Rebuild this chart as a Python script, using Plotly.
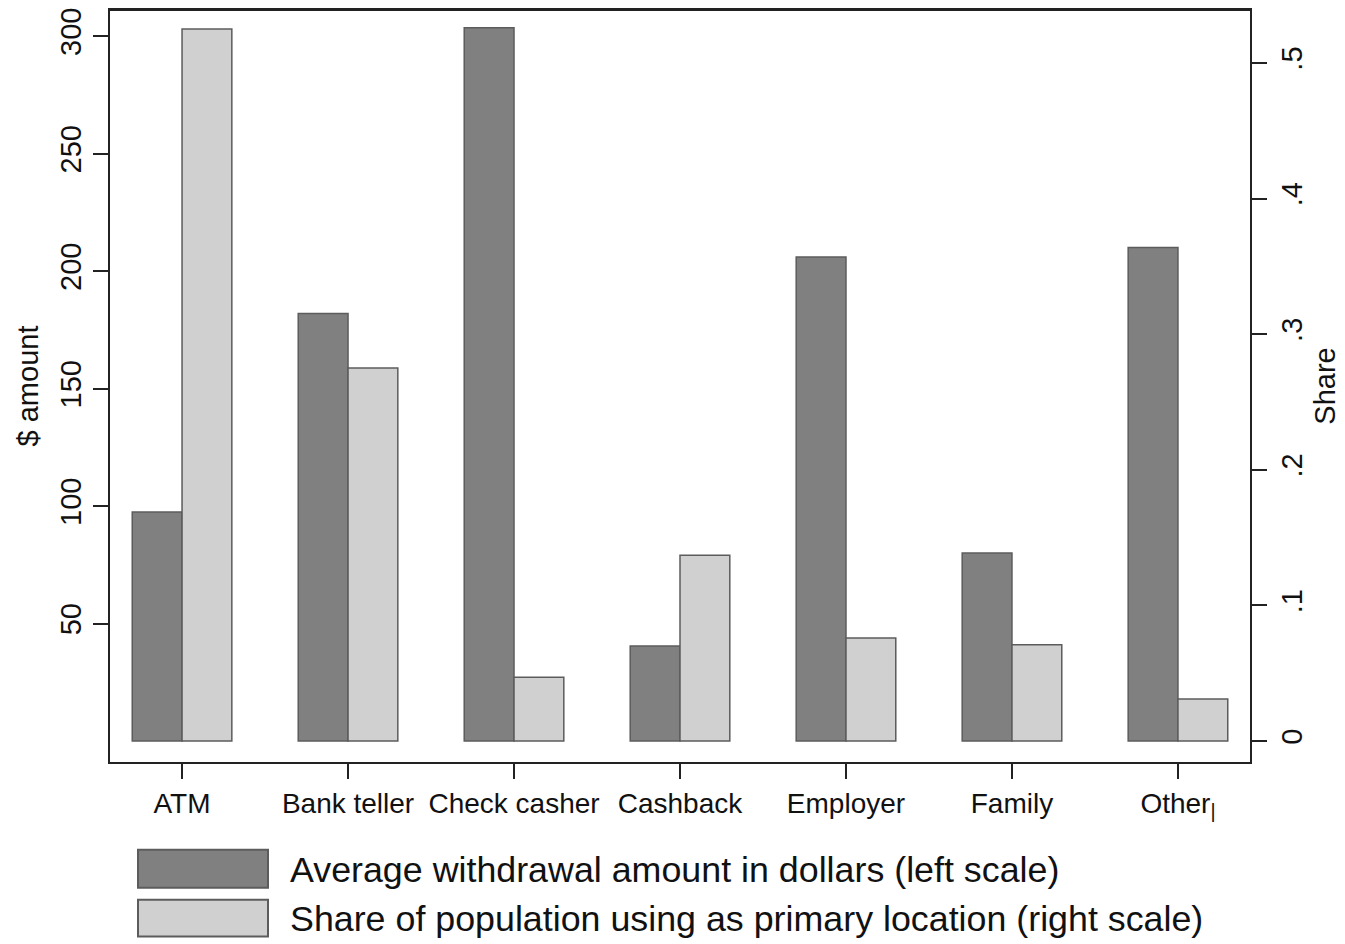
import plotly.graph_objects as go

# Cash withdrawal location data
categories = ["ATM", "Bank teller", "Check casher", "Cashback", "Employer", "Family", "Other"]
tick_text = ["ATM", "Bank teller", "Check casher", "Cashback", "Employer", "Family", "Other<sub>|</sub>"]
avg_amount = [97.5, 182, 303.5, 40.5, 206, 80, 210]            # dollars, left scale
share_primary = [0.525, 0.275, 0.047, 0.137, 0.076, 0.071, 0.031]  # share, right scale

left_ticks = [50, 100, 150, 200, 250, 300]
right_ticks = [0, 0.1, 0.2, 0.3, 0.4, 0.5]
right_tick_text = ["0", ".1", ".2", ".3", ".4", ".5"]

legend_labels = [
    "Average withdrawal amount in dollars (left scale)",
    "Share of population using as primary location (right scale)",
]

DARK = "#808080"
LIGHT = "#d0d0d0"
EDGE = "#5c5c5c"
FONT = "Liberation Sans, Arial, sans-serif"

W, H = 1345, 944
ML, MR, MT, MB = 110, 95, 8, 182
PW, PH = W - ML - MR, H - MT - MB


def px_x(x):
    return (x - ML) / PW


def px_y(y):
    return (H - MB - y) / PH


fig = go.Figure()
fig.add_trace(go.Bar(
    x=categories, y=avg_amount, name=legend_labels[0],
    marker=dict(color=DARK, line=dict(color=EDGE, width=1.5)),
    offsetgroup="a", yaxis="y", showlegend=False,
))
fig.add_trace(go.Bar(
    x=categories, y=share_primary, name=legend_labels[1],
    marker=dict(color=LIGHT, line=dict(color=EDGE, width=1.5)),
    offsetgroup="b", yaxis="y2", showlegend=False,
))

axis_line = dict(showline=True, linecolor="#222", linewidth=2, showgrid=False,
                 zeroline=False, ticks="outside", ticklen=15, tickwidth=2,
                 tickcolor="#222")

fig.update_layout(
    width=W, height=H,
    margin=dict(l=ML, r=MR, t=MT, b=MB),
    paper_bgcolor="white", plot_bgcolor="white",
    font=dict(family=FONT, color="#111"),
    barmode="group", bargap=0.4, bargroupgap=0,
    xaxis=dict(**axis_line, mirror=True, range=[-0.434, 6.434],
               tickvals=categories, ticktext=tick_text,
               tickfont=dict(size=28)),
    yaxis=dict(**axis_line, mirror=False, range=[-8.9, 311.1],
               tickvals=left_ticks, tickangle=-90, tickfont=dict(size=29),
               title=dict(text="$ amount", font=dict(size=29), standoff=8)),
    yaxis2=dict(**axis_line, overlaying="y", side="right", range=[-0.0154, 0.539],
                tickvals=right_ticks, ticktext=right_tick_text, tickangle=-90,
                tickfont=dict(size=29),
                title=dict(text="Share", font=dict(size=29), standoff=8)),
)

# top border of the plot box
fig.add_shape(type="line", xref="paper", yref="paper", x0=0, x1=1, y0=1, y1=1,
              line=dict(color="#222", width=2))

# legend drawn as swatches and labels below the plot
swatches = [(850, 888, DARK), (900, 937, LIGHT)]
for (y0, y1, col), label in zip(swatches, legend_labels):
    fig.add_shape(type="rect", xref="paper", yref="paper",
                  x0=px_x(138), x1=px_x(268), y0=px_y(y1), y1=px_y(y0),
                  fillcolor=col, line=dict(color=EDGE, width=2))
    fig.add_annotation(xref="paper", yref="paper", x=px_x(288), y=px_y((y0 + y1) / 2 + 1),
                       text=label, showarrow=False, xanchor="left", yanchor="middle",
                       font=dict(size=35.8, color="#111"))

fig.write_html("out.html")
